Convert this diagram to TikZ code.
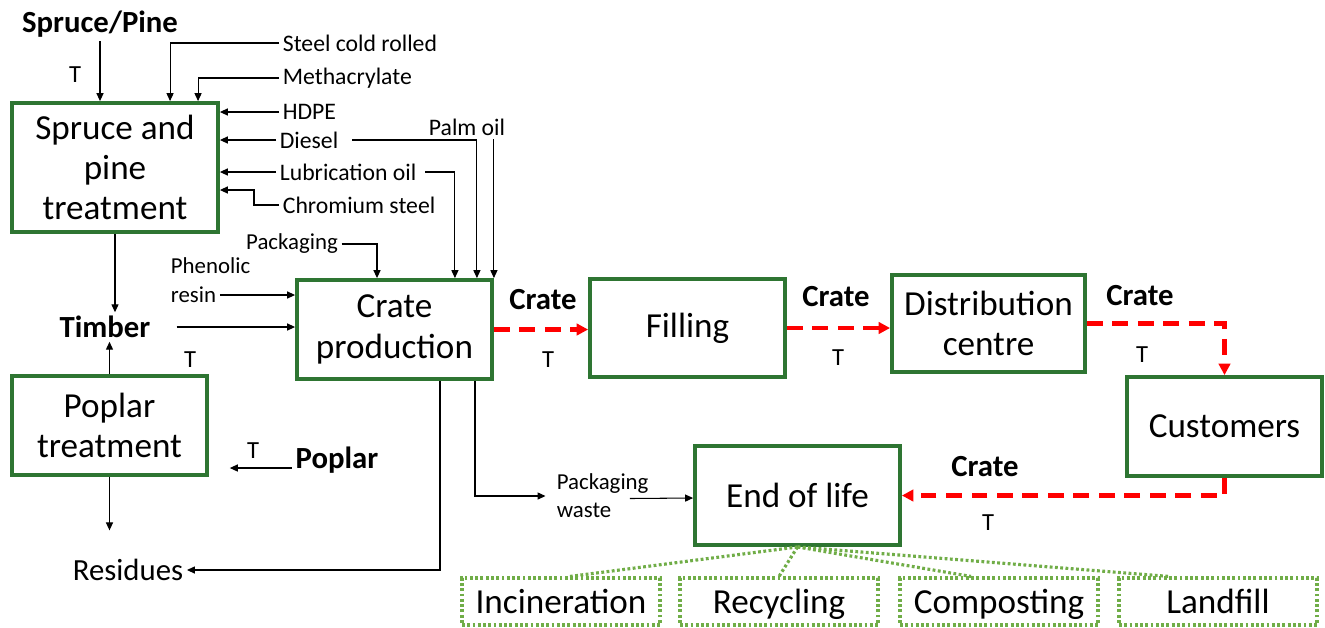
\documentclass[tikz,border=0pt]{standalone}
\usepackage{fontspec}
\setmainfont{Carlito}
\usetikzlibrary{arrows.meta,positioning}
\definecolor{boxgreen}{RGB}{46,117,50}
\definecolor{wastegreen}{RGB}{112,173,71}
\definecolor{crated}{RGB}{255,0,0}
\tikzset{
  procbox/.style={draw=boxgreen, line width=2.2pt, align=center, inner sep=0pt,
               font=\fontsize{20}{23}\selectfont},
  wastebox/.style={draw=wastegreen, line width=1.8pt, dash pattern=on 1.6pt off 1.4pt,
               minimum width=3.96cm, minimum height=0.94cm, inner sep=0pt,
               text height=15pt, text depth=1pt,
               font=\fontsize{20}{23}\selectfont},
  inlabel/.style={inner sep=2pt, font=\fontsize{13.5}{16}\selectfont},
  smalllabel/.style={inner sep=2pt, font=\fontsize{13}{16}\selectfont},
  flowlabel/.style={inner sep=2pt, font=\fontsize{17.5}{20}\selectfont\bfseries},
  tlabel/.style={inner sep=1pt, font=\fontsize{14}{16}\selectfont},
  inflow/.style={-{Triangle[length=4.5pt,width=4pt]}, line width=0.6pt, draw=black},
  crateflow/.style={-{Triangle[length=6.5pt,width=6.5pt]}, line width=2.3pt, draw=crated,
               dash pattern=on 9pt off 5.5pt},
  eolflow/.style={draw=wastegreen, line width=1.8pt, dash pattern=on 1.6pt off 1.4pt},
}
\begin{document}
\begin{tikzpicture}[x=0.02cm, y=-0.02cm]
  \useasboundingbox (0,0) rectangle (1325,627);
  % process boxes
  \node[procbox, minimum width=4.12cm, minimum height=2.58cm] (spruce) at (115,167.5) {Spruce and\\pine\\treatment};
  \node[procbox, minimum width=3.9cm, minimum height=1.98cm] (poplar) at (109.5,425.5) {Poplar\\treatment};
  \node[procbox, minimum width=3.9cm, minimum height=1.98cm] (crate) at (394.5,329.5) {Crate\\production};
  \node[procbox, minimum width=3.9cm, minimum height=1.96cm] (filling) at (687.5,328) {Filling};
  \node[procbox, minimum width=3.86cm, minimum height=1.94cm] (distrib) at (988.5,323.5) {Distribution\\centre};
  \node[procbox, minimum width=3.9cm, minimum height=1.98cm] (customers) at (1224.5,426.5) {Customers};
  \node[procbox, minimum width=4.1cm, minimum height=1.98cm] (eol) at (797.5,495.5) {End of life};
  % end of life options
  \node[wastebox] (incin) at (561,601.5) {Incineration};
  \node[wastebox] (recyc) at (779,601.5) {Recycling};
  \node[wastebox] (compost) at (999,601.5) {Composting};
  \node[wastebox] (landfill) at (1218,601.5) {Landfill};
  % inputs
  \node[flowlabel] (sprucepine) at (100,24) {Spruce/Pine};
  \node[tlabel] (tspruce) at (75,75) {T};
  \node[inlabel, anchor=west] (steel) at (279,43) {Steel cold rolled};
  \node[inlabel, anchor=west] (methac) at (279,78) {Methacrylate};
  \node[inlabel, anchor=west] (hdpe) at (279,112) {HDPE};
  \node[inlabel, anchor=west] (diesel) at (276,140) {Diesel};
  \node[inlabel, anchor=west] (lube) at (276,172) {Lubrication oil};
  \node[inlabel, anchor=west] (chrom) at (279,205) {Chromium steel};
  \node[inlabel] (palm) at (467,127) {Palm oil};
  \node[smalllabel] (pack) at (292,244) {Packaging};
  \node[smalllabel, anchor=west] (phen) at (167,266) {Phenolic};
  \node[smalllabel, anchor=west] (resin) at (167,295) {resin};
  \node[flowlabel] (timber) at (105,327) {Timber};
  \node[tlabel] (ttimber) at (190,360) {T};
  \node[flowlabel] (poplarin) at (337,460) {Poplar};
  \node[tlabel] (tpoplar) at (253,451) {T};
  \node[inlabel, font=\fontsize{17.5}{20}\selectfont] (residues) at (128,570) {Residues};
  \node[smalllabel, anchor=west, align=left] (pwaste) at (553,496) {Packaging\\waste};
  % crate transport labels
  \node[flowlabel] (cratea) at (543,300) {Crate};
  \node[tlabel] (ta) at (548,360) {T};
  \node[flowlabel] (crateb) at (836,297) {Crate};
  \node[tlabel] (tb) at (838,358) {T};
  \node[flowlabel] (cratec) at (1140,296) {Crate};
  \node[tlabel] (tc) at (1142,355) {T};
  \node[flowlabel] (crated) at (985,467) {Crate};
  \node[tlabel] (td) at (988,523) {T};
  % spruce and pine treatment inputs
  \draw[inflow] (sprucepine) -- (sprucepine |- spruce.north);
  \draw[inflow] (steel.west) -| ([xshift=3.2cm]spruce.north west);
  \draw[inflow] (methac.west) -| ([xshift=3.76cm]spruce.north west);
  \draw[inflow] (hdpe.west) -- (hdpe.west -| spruce.east);
  \draw[inflow] (diesel.west) -- (diesel.west -| spruce.east);
  \draw[inflow] (lube.west) -- (lube.west -| spruce.east);
  \draw[inflow] (chrom.west) -- ++(-25,0) |- ([yshift=-0.45cm]spruce.east);
  % crate production inputs
  \draw[inflow] ([xshift=0.2cm]diesel.east) -| ([xshift=-0.34cm]crate.north east);
  \draw[inflow] ([xshift=0.1cm]lube.east) -| ([xshift=-0.78cm]crate.north east);
  \draw[inflow] (crate.north east |- palm.south) -- (crate.north east);
  \draw[inflow] (pack.east) -| ([xshift=-0.35cm]crate.north);
  \draw[inflow] (resin.east) -- (resin.east -| crate.west);
  \draw[inflow] ([xshift=0.45cm]timber.east) -- (timber.east -| crate.west);
  \draw[inflow] (spruce.south) -- (spruce.south |- timber.north);
  \draw[inflow] (poplar.north) -- (poplar.north |- timber.south);
  \draw[inflow] ([yshift=-0.16cm]poplarin.west) -- ++(-62,0);
  % residues and waste
  \coordinate (restop) at ([yshift=0.5cm]residues.north);
  \draw[inflow] (poplar.south) -- (poplar.south |- restop);
  \draw[inflow] ([xshift=0.91cm]crate.south) |- (residues.east);
  \draw[inflow] ([xshift=1.61cm]crate.south) |- ([xshift=-0.15cm]pwaste.west);
  \draw[inflow] ([xshift=-0.45cm,yshift=-0.05cm]pwaste.east) -- ([yshift=-0.05cm]eol.west);
  % crate flow
  \draw[crateflow] (crate.east) -- (crate.east -| filling.west);
  \draw[crateflow] (filling.east) -- (filling.east -| distrib.west);
  \draw[crateflow] (distrib.east) -| (customers.north);
  \draw[crateflow] (customers.south) |- (eol.east);
  % end of life routes
  \draw[eolflow] (eol.south) -- ([xshift=0.18cm]incin.north);
  \draw[eolflow] (eol.south) -- (recyc.north);
  \draw[eolflow] (eol.south) -- ([xshift=-0.56cm]compost.north);
  \draw[eolflow] (eol.south) -- ([xshift=-0.98cm]landfill.north);
\end{tikzpicture}
\end{document}
